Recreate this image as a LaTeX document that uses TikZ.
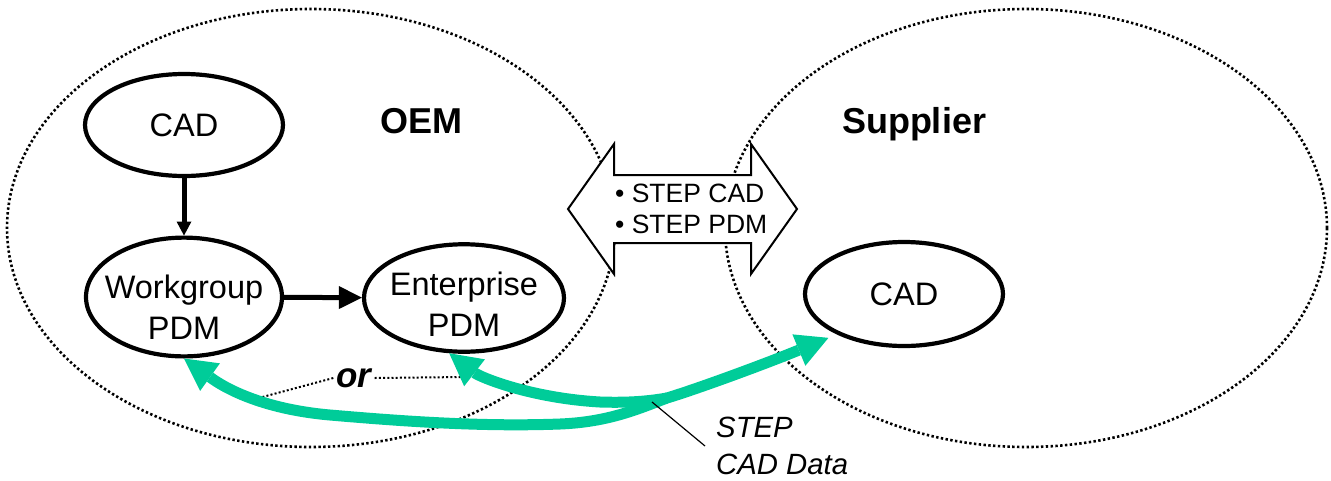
\documentclass[tikz,border=0pt]{standalone}
\usepackage{fontspec}
\setmainfont{Liberation Sans}
\usetikzlibrary{arrows.meta,shapes.geometric}
\definecolor{stepgreen}{RGB}{0,204,153}
\begin{document}
\begin{tikzpicture}[x=1pt,y=-1pt,
  zone/.style={ellipse, draw, line width=2.6pt, dash pattern=on 2.4pt off 2.4pt, inner sep=0pt},
  blob/.style={ellipse, draw, line width=4.2pt, inner ysep=0pt, inner xsep=-14pt, align=center,
               font=\fontsize{32.5}{41}\selectfont},
  title/.style={font=\fontsize{36}{40}\selectfont\bfseries, anchor=base, inner sep=0pt},
  blk/.style={line width=5pt},
  gtip/.tip={Triangle[length=32pt,width=34pt,line width=0pt]},
  btip/.tip={Triangle[length=14pt,width=15pt,line width=0pt]},
  bigtip/.tip={Triangle[length=23pt,width=23pt,line width=0pt]},
  gr/.style={draw=stepgreen, line width=11pt},
  orline/.style={line width=2pt, dash pattern=on 2pt off 2.2pt},
  dbl/.style={draw, line width=2pt, fill=white, line join=miter}]
\useasboundingbox (0,0) rectangle (1331,480);

% regions
\node[zone, minimum width=608pt, minimum height=438pt] (oemzone) at (311,228) {};
\node[zone, minimum width=602pt, minimum height=438pt] (supzone) at (1026,228) {};

% exchange double arrow
\draw[dbl] (568,209) -- (614,144) -- (614,175) -- (751,175) -- (751,144) -- (797,209)
  -- (751,274) -- (751,243) -- (614,243) -- (614,274) -- cycle;
\node[anchor=west, inner sep=0pt, align=left, font=\fontsize{26.5}{31}\selectfont]
  (xa) at (615,209) {• STEP CAD\\• STEP PDM};

% titles
\node[title] (oem) at (421,133) {OEM};
\node[title] (sup) at (914,133) {Supplier};

% systems
\node[blob, minimum width=198pt, minimum height=102pt] (cad) at (184,125) {CAD};
\node[blob, minimum width=196pt, minimum height=106pt, text height=84pt, text depth=0pt] (wg) at (184,297) {Workgroup\\PDM};
\node[blob, minimum width=200pt, minimum height=106pt, text height=76pt, text depth=0pt] (ep) at (464,298) {Enterprise\\PDM};
\node[blob, minimum width=198pt, minimum height=104pt] (sc) at (904,294) {CAD};

\draw[blk, -{btip}] (cad) -- (wg);
\draw[blk, -{bigtip}] (wg) -- (ep);

% or
\node[font=\fontsize{35}{40}\selectfont\bfseries\itshape, inner sep=3pt] (or) at (354,378) {or};
\coordinate (orl) at (255,399);
\coordinate (orr) at (465,377);
\draw[orline] (or.west) -- (orl);
\draw[orline] (or.east) -- (orr);

% STEP CAD data flows
\coordinate (merge) at (667,398);
\coordinate (lp) at (652,402);
\draw[gr, {gtip}-] (ep.255) .. controls (480,377) and (530,398) .. (600,402)
  .. controls (630,403) and (650,401) .. (merge);
\draw[gr, {gtip}-{gtip}, shorten >=9pt] (wg.south) .. controls (214,380) and (250,408) .. (330,415)
  .. controls (400,421) and (480,427) .. (560,424)
  .. controls (610,422) and (640,408) .. (merge)
  .. controls (700,388) and (770,362) .. (sc.211);

\node[anchor=west, inner xsep=11pt, inner ysep=0pt, align=left,
      font=\fontsize{29.3}{37}\selectfont\itshape] (lbl) at (705,446) {STEP\\CAD Data};
\draw[line width=1.2pt] (lp) -- (lbl.west);
\end{tikzpicture}
\end{document}
